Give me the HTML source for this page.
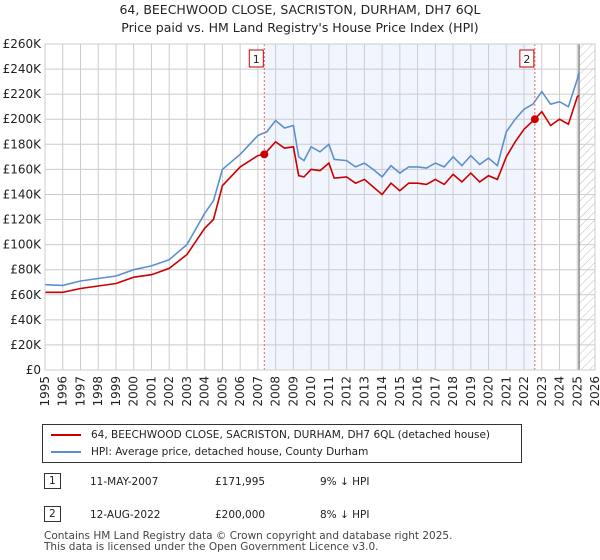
<!DOCTYPE html>
<html><head><meta charset="utf-8"><style>
body{margin:0;width:600px;height:560px;background:#fff;font-family:"DejaVu Sans","Liberation Sans",sans-serif;color:#222;position:relative;overflow:hidden}
.t{position:absolute;left:0;width:600px;text-align:center;font-size:12.5px}
</style></head><body>
<div class="t" style="top:2px">64, BEECHWOOD CLOSE, SACRISTON, DURHAM, DH7 6QL</div>
<div class="t" style="top:20px">Price paid vs. HM Land Registry's House Price Index (HPI)</div>
<svg id="c" width="600" height="420" style="position:absolute;left:0;top:0" font-family="DejaVu Sans, Liberation Sans, sans-serif"></svg>
<div style="position:absolute;left:42px;top:424px;width:478px;height:37px;border:1px solid #333;font-size:10.5px">
 <div style="position:absolute;left:8px;top:4px;white-space:nowrap"><span style="display:inline-block;width:30px;height:2px;background:#cc0000;vertical-align:middle;margin-right:10px"></span>64, BEECHWOOD CLOSE, SACRISTON, DURHAM, DH7 6QL (detached house)</div>
 <div style="position:absolute;left:8px;top:21px;white-space:nowrap"><span style="display:inline-block;width:30px;height:2px;background:#5b8fd0;vertical-align:middle;margin-right:10px"></span>HPI: Average price, detached house, County Durham</div>
</div>
<div style="position:absolute;top:473px;left:0;font-size:10.5px">
 <span style="position:absolute;left:44px;top:0;border:1px solid #333;padding:1px 4px">1</span>
 <span style="position:absolute;left:90px;top:3px;white-space:nowrap">11-MAY-2007</span>
 <span style="position:absolute;left:215px;top:3px;white-space:nowrap">£171,995</span>
 <span style="position:absolute;left:320px;top:3px;white-space:nowrap">9% ↓ HPI</span>
</div>
<div style="position:absolute;top:506px;left:0;font-size:10.5px">
 <span style="position:absolute;left:44px;top:0;border:1px solid #333;padding:1px 4px">2</span>
 <span style="position:absolute;left:90px;top:3px;white-space:nowrap">12-AUG-2022</span>
 <span style="position:absolute;left:215px;top:3px;white-space:nowrap">£200,000</span>
 <span style="position:absolute;left:320px;top:3px;white-space:nowrap">8% ↓ HPI</span>
</div>
<div style="position:absolute;left:44px;top:531px;font-size:10.5px;color:#444;line-height:11px;white-space:nowrap">Contains HM Land Registry data © Crown copyright and database right 2025.<br>This data is licensed under the Open Government Licence v3.0.</div>
<script>
const hpiYears=[1995,1996,1997,1998,1999,2000,2001,2002,2003,2004,2004.5,2005,2006,2007,2007.5,2008,2008.5,2009,2009.3,2009.6,2010,2010.5,2011,2011.3,2012,2012.5,2013,2013.5,2014,2014.5,2015,2015.5,2016,2016.5,2017,2017.5,2018,2018.5,2019,2019.5,2020,2020.5,2021,2021.5,2022,2022.5,2023,2023.5,2024,2024.5,2025,2025.1];
const hpiValues=[68,67.5,71,73,75,80,83,88,100,125,135,160,172,187,190,199,193,195,170,167,178,174,180,168,167,162,165,160,154,163,157,162,162,161,165,162,170,163,171,164,169,163,190,200,208,212,222,212,214,210,232,237];
const priceYears=[1995,1996,1997,1998,1999,2000,2001,2002,2003,2004,2004.5,2005,2006,2007,2007.36,2008,2008.5,2009,2009.3,2009.6,2010,2010.5,2011,2011.3,2012,2012.5,2013,2013.5,2014,2014.5,2015,2015.5,2016,2016.5,2017,2017.5,2018,2018.5,2019,2019.5,2020,2020.5,2021,2021.5,2022,2022.6,2023,2023.5,2024,2024.5,2025,2025.1];
const priceValues=[62,62,65,67,69,74,76,81,92,113,120,147,162,171,172,182,177,178,155,154,160,159,165,153,154,149,152,146,140,149,143,149,149,148,152,148,156,150,157,150,155,152,170,182,192,200,206,195,200,196,218,219];
const saleYears=[2007.36,2022.61];
const saleValues=[171.995,200];
const saleLabels=["1","2"];
const yTicks=[0,20,40,60,80,100,120,140,160,180,200,220,240,260];
const xTicks=[1995,1996,1997,1998,1999,2000,2001,2002,2003,2004,2005,2006,2007,2008,2009,2010,2011,2012,2013,2014,2015,2016,2017,2018,2019,2020,2021,2022,2023,2024,2025,2026];
const L=45,R=595,T=44,B=370;
const x=y=>L+(y-1995)/(2026-1995)*(R-L);
const yv=v=>B-v/260*(B-T);
const svg=document.getElementById('c');const NS='http://www.w3.org/2000/svg';
function mk(tag,a,parent){const e=document.createElementNS(NS,tag);for(const k in a)e.setAttribute(k,a[k]);(parent||svg).appendChild(e);return e;}
let defs=mk('defs',{});let pat=mk('pattern',{id:'h',width:6,height:6,patternUnits:'userSpaceOnUse',patternTransform:'rotate(45)'},defs);mk('line',{x1:0,y1:0,x2:0,y2:6,stroke:'#bbb','stroke-width':1},pat);
let band=mk('rect',{x:x(saleYears[0]),y:T,width:x(saleYears[1])-x(saleYears[0]),height:B-T,fill:'#eef3fc',opacity:0.8});

let hat=mk('rect',{x:x(2025.1),y:T,width:R-x(2025.1),height:B-T,fill:'url(#h)'});

yTicks.forEach(v=>{let g=mk('line',{x1:L,x2:R,y1:yv(v),y2:yv(v),stroke:'#ccc'});
let t=mk('text',{x:L-4,y:yv(v)+4,'text-anchor':'end','font-size':12,fill:'#222'});t.textContent=v===0?'£0':'£'+v+'K';});
xTicks.forEach(v=>{let g=mk('line',{x1:x(v),x2:x(v),y1:T,y2:B,stroke:'#ccc'});
let t=mk('text',{x:0,y:0,'text-anchor':'end','font-size':12,fill:'#222',transform:`translate(${x(v)+4},${B+6}) rotate(-90)`});t.textContent=v;});
let nl=mk('line',{x1:x(2025.1),x2:x(2025.1),y1:T,y2:B,stroke:'#888','stroke-width':1.5});
const pts=(xs,vs)=>xs.map((a,i)=>x(a).toFixed(1)+','+yv(vs[i]).toFixed(1)).join(' ');
let hl=mk('polyline',{points:pts(hpiYears,hpiValues),fill:'none',stroke:'#5b8fd0','stroke-width':1.6});
let pl=mk('polyline',{points:pts(priceYears,priceValues),fill:'none',stroke:'#cc0000','stroke-width':1.6});
saleYears.forEach((s,i)=>{let d=mk('line',{x1:x(s),x2:x(s),y1:T,y2:B,stroke:'#e06666','stroke-dasharray':'2,2'});
let c=mk('circle',{cx:x(s),cy:yv(saleValues[i]),r:4,fill:'#cc0000'});
let b=mk('rect',{x:x(s)-15,y:50,width:14,height:17,fill:'#fff',stroke:'#cc0000'});
let t=mk('text',{x:x(s)-8,y:63,'text-anchor':'middle','font-size':11,fill:'#222'});t.textContent=saleLabels[i];});
let fr=mk('rect',{x:L,y:T,width:R-L,height:B-T,fill:'none',stroke:'#ccc'});
</script>
</body></html>
